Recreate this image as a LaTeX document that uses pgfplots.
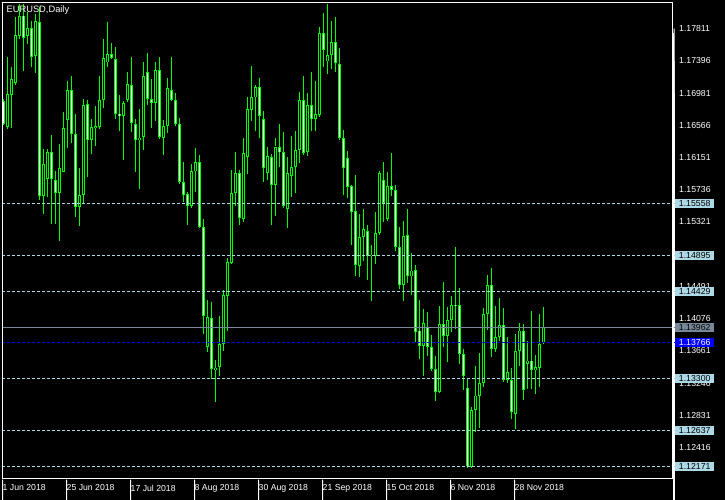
\documentclass[border=0pt]{standalone}
\usepackage{pgfplots}
\pgfplotsset{compat=1.18}
\usepackage{pgfplotstable}
\usepackage{fontspec}
\setmainfont{Liberation Sans}

\definecolor{lime}{RGB}{0,255,0}
\definecolor{lblue}{RGB}{173,216,230}
\definecolor{lsgray}{RGB}{119,136,153}
\definecolor{mtblue}{RGB}{0,0,255}
\newcommand\tf{\fontsize{8.7bp}{9bp}\selectfont}

% EURUSD daily candles, 1 Jun 2018 .. 7 Dec 2018
\pgfplotstableread{
o h l c
1.16884 1.16906 1.16575 1.16584
1.16541 1.17442 1.16520 1.16970
1.16957 1.17322 1.16528 1.17163
1.17108 1.17957 1.17090 1.17730
1.17713 1.18129 1.17678 1.17979
1.17979 1.18129 1.17262 1.17687
1.17721 1.18022 1.17614 1.17820
1.17820 1.17906 1.17314 1.17442
1.17455 1.18000 1.17236 1.17906
1.17897 1.18086 1.15610 1.15653
1.15661 1.16262 1.15425 1.16069
1.15876 1.16262 1.15639 1.16228
1.16219 1.16447 1.15296 1.15876
1.15867 1.15983 1.15296 1.15696
1.15696 1.16326 1.15073 1.16017
1.15972 1.16743 1.15961 1.16532
1.16636 1.17133 1.16275 1.17022
1.17022 1.17206 1.16335 1.16455
1.16455 1.16713 1.15391 1.15511
1.15511 1.16013 1.15266 1.15670
1.15670 1.16906 1.15567 1.16829
1.16841 1.16897 1.15897 1.16378
1.16378 1.16648 1.16198 1.16541
1.16541 1.16820 1.16296 1.16554
1.16541 1.17206 1.16520 1.16893
1.16893 1.17678 1.16790 1.17434
1.17378 1.17902 1.17314 1.17485
1.17485 1.17623 1.17421 1.17434
1.17421 1.17580 1.16648 1.16713
1.16713 1.16957 1.16498 1.16691
1.16691 1.16884 1.16120 1.16854
1.16893 1.17258 1.16863 1.17099
1.17086 1.17451 1.16477 1.16597
1.16584 1.16648 1.15967 1.16378
1.16378 1.16777 1.15747 1.16404
1.16412 1.17387 1.16254 1.17198
1.17249 1.17494 1.16829 1.16906
1.16906 1.17163 1.16528 1.16854
1.16854 1.17387 1.16627 1.17279
1.17279 1.17442 1.16394 1.16412
1.16404 1.16640 1.16189 1.16554
1.16554 1.17176 1.16464 1.17048
1.17022 1.17451 1.16884 1.16897
1.16893 1.16983 1.16554 1.16584
1.16584 1.16661 1.15811 1.15833
1.15833 1.16099 1.15584 1.15670
1.15683 1.15713 1.15288 1.15524
1.15524 1.16069 1.15498 1.15983
1.15972 1.16275 1.15713 1.16090
1.16090 1.16189 1.15241 1.15254
1.15254 1.15361 1.13880 1.14108
1.13708 1.14317 1.13644 1.14103
1.14082 1.14296 1.13301 1.13429
1.13421 1.13550 1.13000 1.13442
1.13451 1.14113 1.13341 1.13751
1.13751 1.14447 1.13657 1.14382
1.14365 1.14854 1.13923 1.14811
1.14794 1.15995 1.14781 1.15696
1.15696 1.16228 1.15524 1.15953
1.15947 1.15992 1.15283 1.15369
1.15361 1.16399 1.15326 1.16211
1.16155 1.16927 1.15940 1.16777
1.16764 1.17335 1.16618 1.16927
1.16927 1.17090 1.16498 1.17056
1.17056 1.17176 1.16404 1.16683
1.16648 1.16756 1.15833 1.16017
1.15949 1.16283 1.15867 1.16176
1.16155 1.16198 1.15288 1.15799
1.15799 1.16399 1.15404 1.16293
1.16283 1.16584 1.16031 1.16219
1.16219 1.16485 1.15498 1.15524
1.15490 1.16163 1.15241 1.15947
1.15910 1.16434 1.15639 1.16031
1.16035 1.16498 1.15692 1.16249
1.16249 1.17000 1.16077 1.16893
1.16893 1.17206 1.16189 1.16207
1.16219 1.16979 1.16172 1.16829
1.16829 1.17249 1.16498 1.16648
1.16648 1.17142 1.16489 1.16713
1.16704 1.17837 1.16670 1.17756
1.17756 1.18013 1.17314 1.17537
1.17391 1.18129 1.17228 1.17472
1.17472 1.17914 1.17292 1.17636
1.17636 1.17966 1.17249 1.17365
1.17357 1.17563 1.16378 1.16404
1.16404 1.16511 1.15674 1.16017
1.16146 1.16241 1.15627 1.15769
1.15790 1.15803 1.15030 1.15447
1.15459 1.15932 1.14631 1.14768
1.14751 1.15425 1.14618 1.15125
1.15125 1.15490 1.14824 1.15232
1.15211 1.15288 1.14580 1.14888
1.14888 1.15030 1.14309 1.14901
1.14888 1.15455 1.14781 1.15180
1.15176 1.15983 1.15155 1.15947
1.15863 1.16099 1.15326 1.15567
1.15361 1.15960 1.15339 1.15781
1.15781 1.16211 1.15653 1.15738
1.15738 1.15799 1.14949 1.14996
1.14996 1.15262 1.14463 1.14507
1.14507 1.15339 1.14309 1.15138
1.15155 1.15490 1.14529 1.14631
1.14622 1.14923 1.14382 1.14695
1.14703 1.14761 1.13781 1.13901
1.13923 1.14322 1.13558 1.13729
1.13730 1.14202 1.13341 1.14017
1.13966 1.14168 1.13592 1.13708
1.13708 1.13867 1.13399 1.13429
1.13429 1.13601 1.13013 1.13128
1.13128 1.14245 1.13116 1.14008
1.14008 1.14554 1.13708 1.13850
1.13850 1.14231 1.13516 1.14061
1.14061 1.14374 1.13901 1.14254
1.14254 1.14996 1.13944 1.14245
1.14254 1.14468 1.13494 1.13617
1.13617 1.13687 1.13159 1.13336
1.13185 1.13310 1.12150 1.12172
1.12172 1.12936 1.12163 1.12901
1.12901 1.13472 1.12618 1.13086
1.13077 1.13631 1.12674 1.13249
1.13249 1.14210 1.13202 1.14139
1.14139 1.14644 1.13931 1.14507
1.14507 1.14725 1.13588 1.13687
1.13687 1.14245 1.13644 1.13837
1.13837 1.14339 1.13794 1.13996
1.13996 1.14210 1.13266 1.13288
1.13288 1.13837 1.13245 1.13386
1.13283 1.13439 1.12781 1.12871
1.12850 1.13880 1.12652 1.13665
1.13665 1.14017 1.13472 1.13923
1.13923 1.14008 1.13034 1.13159
1.13494 1.13794 1.13172 1.13537
1.13537 1.14181 1.13172 1.13416
1.13416 1.13614 1.13111 1.13451
1.13439 1.14139 1.13194 1.13751
1.13766 1.14231 1.13751 1.13962
}\candles

\def\xr{167.375}
% price scale tick + label
\newcommand\ptick[1]{%
  \draw[white,line width=1bp] ([xshift=1bp]axis cs:\xr,#1) -- ++(3.5bp,0);
  \node[anchor=west,inner sep=0pt,text=white,font=\tf] at ([xshift=6bp]axis cs:\xr,#1) {#1};}
% horizontal level with its price box
\newcommand\lvl[4]{%
  \draw[#2,line width=1bp,#3] (axis cs:-0.375,#1) -- ([xshift=2bp]axis cs:\xr,#1);
  \node[anchor=west,inner sep=0pt,fill=#2,text=#4,font=\tf,minimum width=39bp,minimum height=9bp] at ([xshift=2bp]axis cs:\xr,#1) {#1};}
% date tick + label
\newcommand\dtick[2]{%
  \draw[white,line width=1bp] (axis cs:#1,1.120036) -- ++(0,-4bp);
  \node[anchor=north west,inner sep=0pt,text=white,font=\tf] at ([yshift=-5bp]axis cs:#1,1.120036) {#2};}

\begin{document}
\begin{tikzpicture}
\useasboundingbox (0,0) rectangle (725bp,500bp);
\fill[black] (0,0) rectangle (725bp,500bp);
\begin{axis}[
  at={(2bp,20.5bp)}, anchor=south west,
  scale only axis, width=671bp, height=477bp,
  xmin=-0.375, xmax=167.375,
  ymin=1.120036, ymax=1.181458,
  hide axis, clip=false,
]
% upper wicks
\addplot[draw=none, mark=none, forget plot,
  error bars/.cd, y dir=plus, y explicit, error mark=none,
  error bar style={draw=lime, solid, line width=1bp}]
  table[x expr=\coordindex, y expr={max(\thisrow{o},\thisrow{c})},
        y error expr={\thisrow{h}-max(\thisrow{o},\thisrow{c})}] {\candles};
% lower wicks
\addplot[draw=none, mark=none, forget plot,
  error bars/.cd, y dir=minus, y explicit, error mark=none,
  error bar style={draw=lime, solid, line width=1bp}]
  table[x expr=\coordindex, y expr={min(\thisrow{o},\thisrow{c})},
        y error expr={min(\thisrow{o},\thisrow{c})-\thisrow{l}}] {\candles};
% body outline
\addplot[draw=none, mark=none, forget plot,
  error bars/.cd, y dir=both, y explicit, error mark=none,
  error bar style={draw=lime, solid, line width=3bp}]
  table[x expr=\coordindex, y expr={(\thisrow{o}+\thisrow{c})/2},
        y error expr={max(abs(\thisrow{o}-\thisrow{c})/2,0.00006)}] {\candles};
% bear bodies: white inside (about 1 px shorter at each end)
\addplot[draw=none, mark=none, forget plot,
  error bars/.cd, y dir=both, y explicit, error mark=none,
  error bar style={draw=white, solid, line width=1bp}]
  table[x expr=\coordindex, y expr={(\thisrow{o}+\thisrow{c})/2},
        y error expr={(abs(\thisrow{o}-\thisrow{c})+\thisrow{o}-\thisrow{c})/4*(1-0.000258/(abs(\thisrow{o}-\thisrow{c})+0.000258))}] {\candles};
% bull bodies: black inside
\addplot[draw=none, mark=none, forget plot,
  error bars/.cd, y dir=both, y explicit, error mark=none,
  error bar style={draw=black, solid, line width=1bp}]
  table[x expr=\coordindex, y expr={(\thisrow{o}+\thisrow{c})/2},
        y error expr={(abs(\thisrow{o}-\thisrow{c})+\thisrow{c}-\thisrow{o})/4*(1-0.000258/(abs(\thisrow{o}-\thisrow{c})+0.000258))}] {\candles};

\ptick{1.12416}\ptick{1.12831}\ptick{1.13246}\ptick{1.13661}\ptick{1.14076}
\ptick{1.14491}\ptick{1.14906}\ptick{1.15321}\ptick{1.15736}\ptick{1.16151}
\ptick{1.16566}\ptick{1.16981}\ptick{1.17396}\ptick{1.17811}

\lvl{1.15558}{lblue}{dash pattern=on 3bp off 2bp}{black}
\lvl{1.14895}{lblue}{dash pattern=on 3bp off 2bp}{black}
\lvl{1.14429}{lblue}{dash pattern=on 3bp off 2bp}{black}
\lvl{1.13300}{lblue}{dash pattern=on 3bp off 2bp}{black}
\lvl{1.12637}{lblue}{dash pattern=on 3bp off 2bp}{black}
\lvl{1.12171}{lblue}{dash pattern=on 3bp off 2bp}{black}
\lvl{1.13962}{lsgray}{solid}{black}
\lvl{1.13766}{mtblue}{dash pattern=on 3bp off 2bp}{white}

\dtick{-0.25}{1 Jun 2018}
\dtick{15.75}{25 Jun 2018}
\dtick{31.75}{17 Jul 2018}
\dtick{47.75}{8 Aug 2018}
\dtick{63.75}{30 Aug 2018}
\dtick{79.75}{21 Sep 2018}
\dtick{95.75}{15 Oct 2018}
\dtick{111.75}{6 Nov 2018}
\dtick{127.75}{28 Nov 2018}
\end{axis}
% chart frame
\draw[white,line width=1bp] (2.5bp,21.5bp) rectangle (672.5bp,497.5bp);
\draw[white,line width=2bp] (673bp,21bp) -- (673bp,467bp);
\node[anchor=base west,inner sep=0pt,text=white,font=\fontsize{9.3bp}{10bp}\selectfont] at (6.5bp,487bp) {EURUSD,Daily};
\end{tikzpicture}
\end{document}
